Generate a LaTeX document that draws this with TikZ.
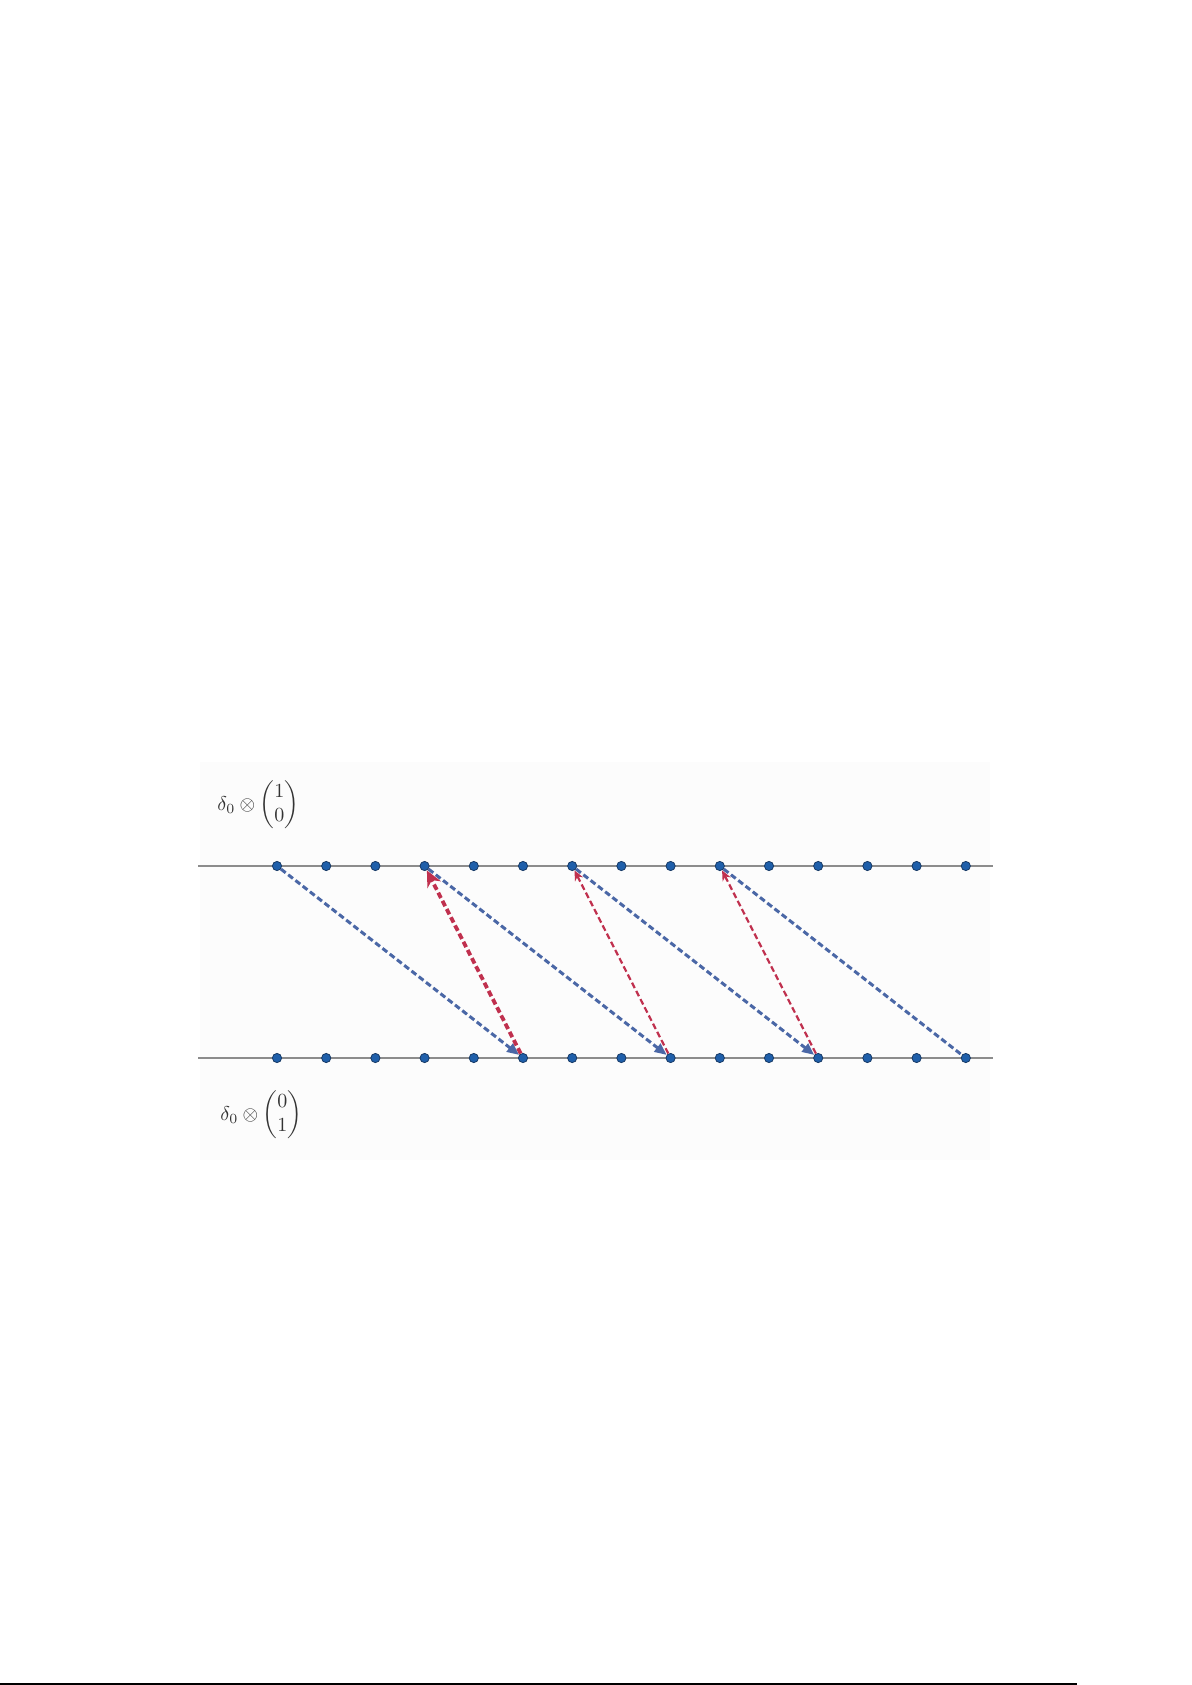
\documentclass[tikz,border=0pt]{standalone}
\usepackage{amsmath}
\usepackage{tikz}
\usetikzlibrary{arrows.meta}
\definecolor{dotblue}{HTML}{1F5FAA}
\definecolor{dotrim}{HTML}{173A66}
\definecolor{linkblue}{HTML}{4A67A6}
\definecolor{linkred}{HTML}{C0304E}
\definecolor{railgray}{HTML}{8C8C8C}

\begin{document}
\begin{tikzpicture}[
			x=0.5pt, y=-0.5pt,
			node distance={24.6pt},
			dot/.style = {draw=dotrim, fill=dotblue, circle, minimum size=4.6pt, inner sep=0pt, line width=0.4pt},
			rail/.style = {draw=railgray, line width=1.2pt},
			jump/.style = {linkblue, line width=1.5pt, dash pattern=on 3pt off 1.6pt},
			back/.style = {linkred, line width=1.1pt, dash pattern=on 3pt off 1.6pt},
			basis/.style = {anchor=west, inner sep=0pt, text=black!80}
		]
		\useasboundingbox (0,0) rectangle (1192,1685);
		\fill[black!1.2] (200,762) rectangle (990,1160);
		\coordinate (tl) at (198,866);
		\coordinate (tr) at (993,866);
		\coordinate (bl) at (198,1058);
		\coordinate (br) at (993,1058);
		\draw[rail] (tl) -- (tr);
		\draw[rail] (bl) -- (br);
		\node[basis] (up) at (217,805) {$\delta_0\otimes\begin{pmatrix}1\\0\end{pmatrix}$};
		\node[basis] (down) at (220,1115) {$\delta_0\otimes\begin{pmatrix}0\\1\end{pmatrix}$};
		\node[dot] (t0) at (277,866) {};
		\node[dot] (b0) at (277,1058) {};
		\foreach \i [remember=\i as \j (initially 0)] in {1,...,14} {
			\node[dot] (t\i) [right of=t\j] {};
			\node[dot] (b\i) [right of=b\j] {};
		}
		\foreach \a/\b in {0/5, 3/8, 6/11}
			\draw[jump, -{Triangle[length=6pt, width=5pt]}] (t\a) -- (b\b);
		\draw[jump] (t9) -- (b14);
		\draw[back, line width=1.9pt, -{Stealth[length=8pt, width=7.5pt]}] (b5) -- (t3);
		\draw[back, -{Stealth[length=5pt, width=4.5pt]}] (b8) -- (t6);
		\draw[back, -{Stealth[length=5pt, width=4.5pt]}] (b11) -- (t9);
		\coordinate (fl) at (0,1684);
		\coordinate (fr) at (1077,1684);
		\draw[line width=1pt] (fl) -- (fr);
	\end{tikzpicture}
\end{document}
